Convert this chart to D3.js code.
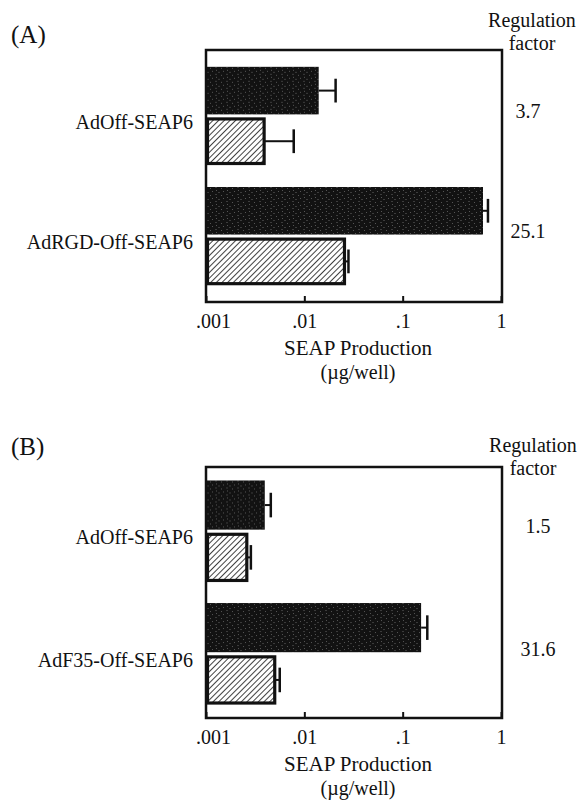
<!DOCTYPE html>
<html>
<head>
<meta charset="utf-8">
<script src="https://cdn.jsdelivr.net/npm/d3@7"></script>
<style>
  body { margin: 0; background: #fff; }
  svg { display: block; }
  svg text { font-family: "Liberation Serif", "DejaVu Serif", serif; fill: #111; }
</style>
</head>
<body>
<script>
// data (SEAP production, ug/well)
const categoriesA = ["AdOff-SEAP6", "AdRGD-Off-SEAP6"];
const darkA = [0.014, 0.656];
const darkErrA = [0.0208, 0.737];
const hatchA = [0.0039, 0.0256];
const hatchErrA = [0.0078, 0.0281];
const factorsA = ["3.7", "25.1"];

const categoriesB = ["AdOff-SEAP6", "AdF35-Off-SEAP6"];
const darkB = [0.00396, 0.154];
const darkErrB = [0.00456, 0.178];
const hatchB = [0.0026, 0.005];
const hatchErrB = [0.00286, 0.00562];
const factorsB = ["1.5", "31.6"];

const series = ["dark", "hatched"];
const tickValues = [0.001, 0.01, 0.1, 1];
const tickLabels = [".001", ".01", ".1", "1"];

const width = 579;
const height = 805;
const serif = "Liberation Serif, DejaVu Serif, serif";

const svg = d3.select("body").append("svg")
  .attr("width", width)
  .attr("height", height)
  .attr("font-family", serif);

const defs = svg.append("defs");

// speckled near-black fill
const speck = defs.append("pattern")
  .attr("id", "speck")
  .attr("patternUnits", "userSpaceOnUse")
  .attr("width", 11)
  .attr("height", 7);
speck.append("rect").attr("width", 11).attr("height", 7).attr("fill", "#121212");
[[1, 1], [6, 0], [3, 4], [9, 5], [7, 3]].forEach(([px, py], i) => {
  speck.append("rect")
    .attr("x", px).attr("y", py)
    .attr("width", i % 2 ? 2 : 1).attr("height", 1)
    .attr("fill", i % 2 ? "#3c3c3c" : "#555");
});

// diagonal hatch
const hatch = defs.append("pattern")
  .attr("id", "hatch")
  .attr("patternUnits", "userSpaceOnUse")
  .attr("width", 4)
  .attr("height", 4)
  .attr("patternTransform", "rotate(45)");
hatch.append("rect").attr("width", 4).attr("height", 4).attr("fill", "#fff");
hatch.append("line")
  .attr("x1", 0).attr("y1", 0).attr("x2", 0).attr("y2", 4)
  .attr("stroke", "#111").attr("stroke-width", 1.6);

const x = d3.scaleLog().domain([0.001, 1]).range([206, 501]);

function drawPanel(opt) {
  const g = svg.append("g");
  const top = opt.top;
  const bottom = opt.bottom;
  const left = x.range()[0];
  const right = x.range()[1] + 1;

  const rows = opt.categories.map((c, i) => ({
    name: c,
    factor: opt.factors[i],
    bars: [
      { key: "dark", value: opt.dark[i], err: opt.darkErr[i] },
      { key: "hatched", value: opt.hatch[i], err: opt.hatchErr[i] },
    ],
  }));

  const y = d3.scaleBand()
    .domain(opt.categories)
    .range([top, bottom])
    .paddingInner(opt.padIn)
    .paddingOuter(opt.padOut);

  const yIn = d3.scaleBand()
    .domain(series)
    .range([0, y.bandwidth()])
    .paddingInner(0.06);

  // panel letter
  g.append("text")
    .attr("x", 11)
    .attr("y", opt.letterY)
    .attr("font-size", 25)
    .text(opt.letter);

  // header on the right
  g.append("text")
    .attr("x", opt.headX)
    .attr("y", opt.headY)
    .attr("text-anchor", "middle")
    .attr("font-size", 20)
    .selectAll("tspan")
    .data(["Regulation", "factor"])
    .join("tspan")
    .attr("x", opt.headX)
    .attr("dy", (d, i) => (i ? 23 : 0))
    .text((d) => d);

  const row = g.selectAll(".row")
    .data(rows)
    .join("g")
    .attr("class", "row")
    .attr("transform", (d) => `translate(0,${y(d.name)})`);

  row.append("text")
    .attr("x", 193)
    .attr("y", y.bandwidth() / 2 + 13)
    .attr("text-anchor", "end")
    .attr("font-size", 20)
    .text((d) => d.name);

  row.append("text")
    .attr("x", opt.factorX)
    .attr("y", y.bandwidth() / 2 + 2)
    .attr("text-anchor", "middle")
    .attr("font-size", 20)
    .text((d) => d.factor);

  const bar = row.selectAll(".bar")
    .data((d) => d.bars)
    .join("g")
    .attr("class", "bar");

  // error bars
  bar.append("line")
    .attr("x1", (d) => x(d.value))
    .attr("x2", (d) => x(d.err))
    .attr("y1", (d) => yIn(d.key) + yIn.bandwidth() / 2)
    .attr("y2", (d) => yIn(d.key) + yIn.bandwidth() / 2)
    .attr("stroke", "#111")
    .attr("stroke-width", 2);

  bar.append("line")
    .attr("x1", (d) => x(d.err))
    .attr("x2", (d) => x(d.err))
    .attr("y1", (d) => yIn(d.key) + yIn.bandwidth() * 0.25)
    .attr("y2", (d) => yIn(d.key) + yIn.bandwidth() * 0.75)
    .attr("stroke", "#111")
    .attr("stroke-width", 2.5);

  bar.append("rect")
    .attr("x", (d) => (d.key === "dark" ? left : left + 1.5))
    .attr("y", (d) => yIn(d.key) + (d.key === "dark" ? 0 : 1.5))
    .attr("width", (d) => x(d.value) - left - (d.key === "dark" ? 0 : 1.5))
    .attr("height", (d) => yIn.bandwidth() - (d.key === "dark" ? 0 : 3))
    .attr("fill", (d) => (d.key === "dark" ? "url(#speck)" : "url(#hatch)"))
    .attr("stroke", (d) => (d.key === "dark" ? "none" : "#111"))
    .attr("stroke-width", 3.2);

  // frame
  g.append("rect")
    .attr("x", left)
    .attr("y", top)
    .attr("width", right - left)
    .attr("height", bottom - top)
    .attr("fill", "none")
    .attr("stroke", "#111")
    .attr("stroke-width", 2.5);

  const axis = d3.axisBottom(x)
    .tickValues(tickValues)
    .tickFormat((d, i) => tickLabels[i])
    .tickSize(-6)
    .tickPadding(14);

  const ax = g.append("g")
    .attr("transform", `translate(0,${bottom})`)
    .call(axis)
    .attr("font-family", serif);
  ax.select(".domain").remove();
  ax.selectAll(".tick line").attr("stroke", "#111").attr("stroke-width", 2);
  ax.selectAll(".tick text")
    .attr("font-size", 20)
    .attr("fill", "#111")
    .attr("dy", null)
    .attr("y", 26)
    .attr("dx", (d, i) => (i === 0 ? 7 : 0));

  g.append("text")
    .attr("x", 358)
    .attr("y", bottom + 53)
    .attr("text-anchor", "middle")
    .attr("font-size", 21)
    .text("SEAP Production");

  g.append("text")
    .attr("x", 358)
    .attr("y", bottom + 77)
    .attr("text-anchor", "middle")
    .attr("font-size", 20)
    .text("(\u00b5g/well)");
}

drawPanel({
  letter: "(A)", letterY: 43, headX: 532, headY: 27, factorX: 528,
  top: 50, bottom: 302, padIn: 0.183, padOut: 0.14,
  categories: categoriesA, dark: darkA, darkErr: darkErrA,
  hatch: hatchA, hatchErr: hatchErrA, factors: factorsA,
});

drawPanel({
  letter: "(B)", letterY: 455, headX: 533, headY: 452, factorX: 538,
  top: 467, bottom: 718, padIn: 0.172, padOut: 0.11,
  categories: categoriesB, dark: darkB, darkErr: darkErrB,
  hatch: hatchB, hatchErr: hatchErrB, factors: factorsB,
});
</script>
</body>
</html>
